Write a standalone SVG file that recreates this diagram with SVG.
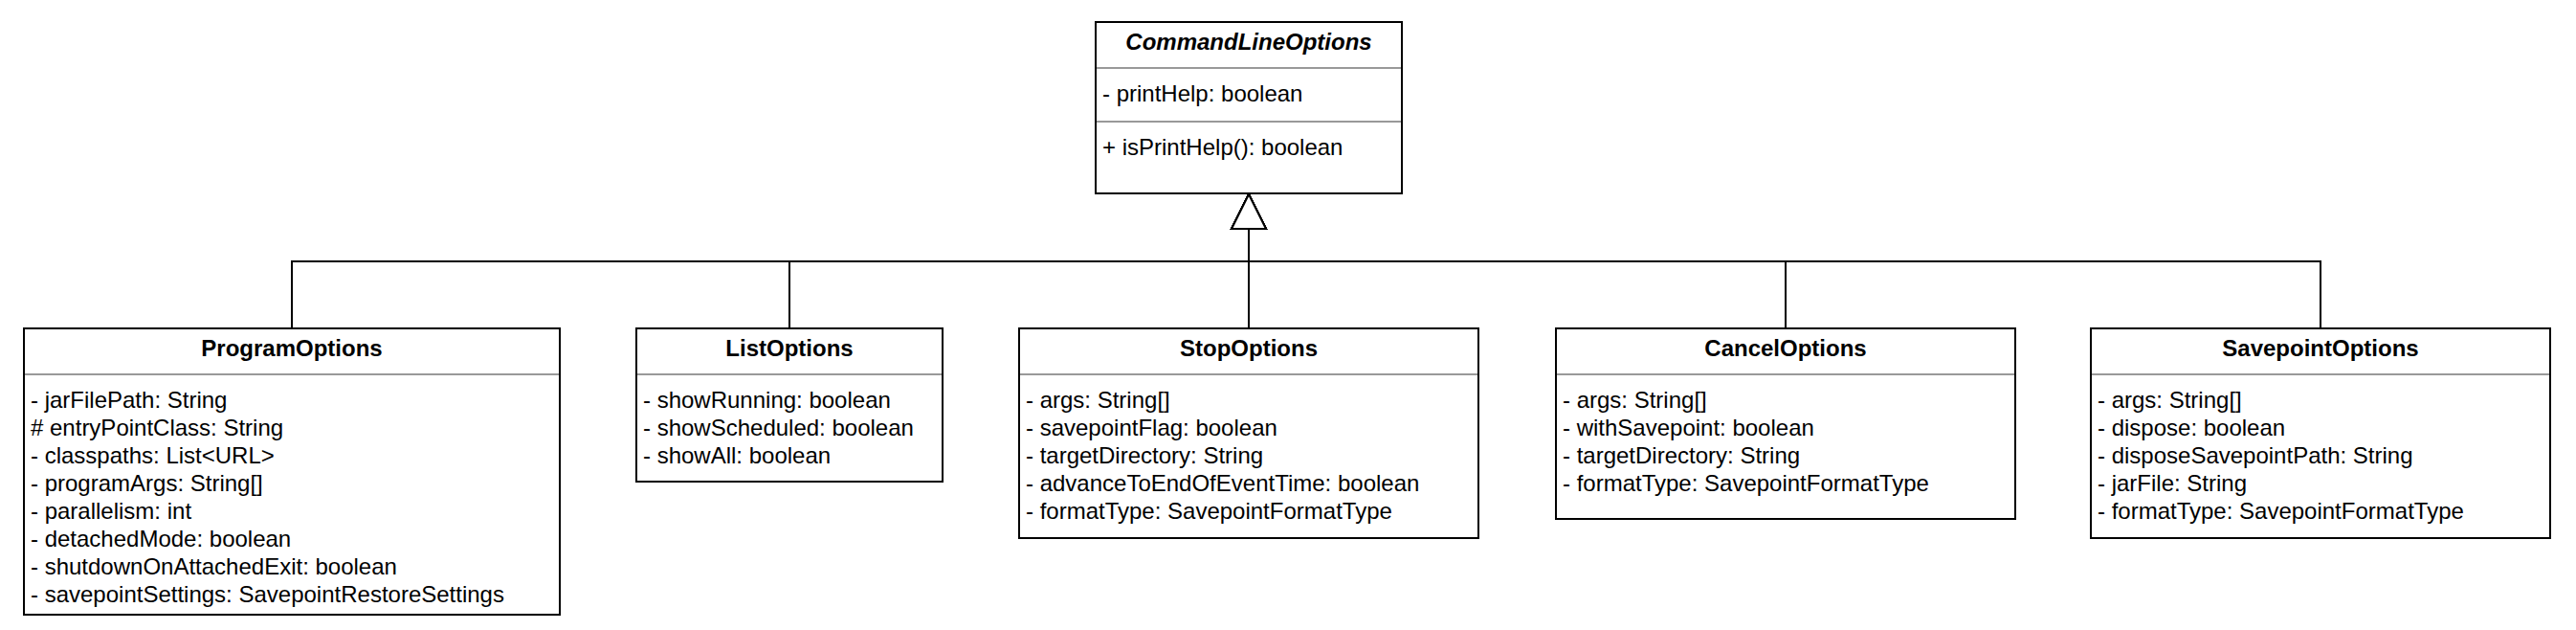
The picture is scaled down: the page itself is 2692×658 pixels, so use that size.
<svg xmlns="http://www.w3.org/2000/svg" width="2692" height="658" viewBox="0 0 2692 658">
<style>
  .box { fill: #ffffff; stroke: #000000; stroke-width: 2; }
  .sep { stroke: #999999; stroke-width: 2; }
  .title { font-family: "Liberation Sans", Arial, Helvetica, sans-serif; font-size: 24px; font-weight: bold; text-anchor: middle; fill: #000000; }
  .abstract { font-style: italic; }
  .attr { font-family: "Liberation Sans", Arial, Helvetica, sans-serif; font-size: 24px; fill: #000000; }
  .edge { fill: none; stroke: #000000; stroke-width: 2; }
</style>
<defs>
  <marker id="inherit" viewBox="0 0 36 36" refX="36" refY="18" markerWidth="36" markerHeight="36" markerUnits="userSpaceOnUse" orient="auto" overflow="visible">
    <path d="M0,0 L36,18 L0,36 Z" fill="#ffffff" stroke="#000000" stroke-width="2"/>
  </marker>
</defs>
<rect x="0" y="0" width="2692" height="658" fill="#ffffff"/>

<g id="connectors">
  <path class="edge" d="M305,343 V273 H1305 V203" marker-end="url(#inherit)"/>
  <path class="edge" d="M825,343 V273 H1305 V203" marker-end="url(#inherit)"/>
  <path class="edge" d="M1866,343 V273 H1305 V203" marker-end="url(#inherit)"/>
  <path class="edge" d="M2425,343 V273 H1305 V203" marker-end="url(#inherit)"/>
  <path class="edge" d="M1305,343 V203" marker-end="url(#inherit)"/>
</g>

<g id="CommandLineOptions">
  <rect class="box" x="1145" y="23" width="320" height="179"/>
  <line class="sep" x1="1146" y1="71" x2="1464" y2="71"/>
  <line class="sep" x1="1146" y1="127" x2="1464" y2="127"/>
  <text class="title abstract" x="1305" y="52">CommandLineOptions</text>
  <text class="attr" x="1152" y="106">- printHelp: boolean</text>
  <text class="attr" x="1152" y="162">+ isPrintHelp(): boolean</text>
</g>

<g id="ProgramOptions">
  <rect class="box" x="25" y="343" width="560" height="299"/>
  <line class="sep" x1="26" y1="391" x2="584" y2="391"/>
  <text class="title" x="305" y="372">ProgramOptions</text>
  <text class="attr" x="32" y="426">- jarFilePath: String</text>
  <text class="attr" x="32" y="455"># entryPointClass: String</text>
  <text class="attr" x="32" y="484">- classpaths: List&lt;URL&gt;</text>
  <text class="attr" x="32" y="513">- programArgs: String[]</text>
  <text class="attr" x="32" y="542">- parallelism: int</text>
  <text class="attr" x="32" y="571">- detachedMode: boolean</text>
  <text class="attr" x="32" y="600">- shutdownOnAttachedExit: boolean</text>
  <text class="attr" x="32" y="629">- savepointSettings: SavepointRestoreSettings</text>
</g>

<g id="ListOptions">
  <rect class="box" x="665" y="343" width="320" height="160"/>
  <line class="sep" x1="666" y1="391" x2="984" y2="391"/>
  <text class="title" x="825" y="372">ListOptions</text>
  <text class="attr" x="672" y="426">- showRunning: boolean</text>
  <text class="attr" x="672" y="455">- showScheduled: boolean</text>
  <text class="attr" x="672" y="484">- showAll: boolean</text>
</g>

<g id="StopOptions">
  <rect class="box" x="1065" y="343" width="480" height="219"/>
  <line class="sep" x1="1066" y1="391" x2="1544" y2="391"/>
  <text class="title" x="1305" y="372">StopOptions</text>
  <text class="attr" x="1072" y="426">- args: String[]</text>
  <text class="attr" x="1072" y="455">- savepointFlag: boolean</text>
  <text class="attr" x="1072" y="484">- targetDirectory: String</text>
  <text class="attr" x="1072" y="513">- advanceToEndOfEventTime: boolean</text>
  <text class="attr" x="1072" y="542">- formatType: SavepointFormatType</text>
</g>

<g id="CancelOptions">
  <rect class="box" x="1626" y="343" width="480" height="199"/>
  <line class="sep" x1="1627" y1="391" x2="2105" y2="391"/>
  <text class="title" x="1866" y="372">CancelOptions</text>
  <text class="attr" x="1633" y="426">- args: String[]</text>
  <text class="attr" x="1633" y="455">- withSavepoint: boolean</text>
  <text class="attr" x="1633" y="484">- targetDirectory: String</text>
  <text class="attr" x="1633" y="513">- formatType: SavepointFormatType</text>
</g>

<g id="SavepointOptions">
  <rect class="box" x="2185" y="343" width="480" height="219"/>
  <line class="sep" x1="2186" y1="391" x2="2664" y2="391"/>
  <text class="title" x="2425" y="372">SavepointOptions</text>
  <text class="attr" x="2192" y="426">- args: String[]</text>
  <text class="attr" x="2192" y="455">- dispose: boolean</text>
  <text class="attr" x="2192" y="484">- disposeSavepointPath: String</text>
  <text class="attr" x="2192" y="513">- jarFile: String</text>
  <text class="attr" x="2192" y="542">- formatType: SavepointFormatType</text>
</g>
</svg>
